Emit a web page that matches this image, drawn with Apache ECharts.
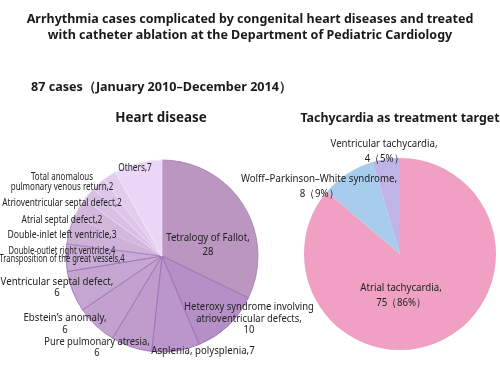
<!DOCTYPE html>
<html><head><meta charset="utf-8">
<script src="https://cdn.jsdelivr.net/npm/echarts@6/dist/echarts.min.js"></script>
<style>html,body{margin:0;padding:0;background:#fff}#c{width:500px;height:369px}</style>
</head><body><div id="c"></div>
<script>
// ---- data ----
const diseaseNames = ['Tetralogy of Fallot','Heteroxy syndrome involving atrioventricular defects','Asplenia, polysplenia','Pure pulmonary atresia','Ebstein\u2019s anomaly','Ventricular septal defect','Transposition of the great vessels','Double-outlet right ventricle','Double-inlet left ventricle','Atrial septal defect','Atrioventricular septal defect','Total anomalous pulmonary venous return','Others'];
const diseaseValues = [28,10,7,6,6,6,4,4,3,2,2,2,7];
const diseaseLabels = ['Tetralogy of Fallot,\n28','Heteroxy syndrome involving\natrioventricular defects,\n10','Asplenia, polysplenia,7','Pure pulmonary atresia,\n6','Ebstein\u2019s anomaly,\n6','Ventricular septal defect,\n6','Transposition of the great vessels,4','Double-outlet right ventricle,4','Double-inlet left ventricle,3','Atrial septal defect,2','Atrioventricular septal defect,2','Total anomalous\npulmonary venous return,2','Others,7'];
const tachyNames = ['Atrial tachycardia','Wolff\u2013Parkinson\u2013White syndrome','Ventricular tachycardia'];
const tachyValues = [75,8,4];
const tachyPct = ['86%','9%','5%'];
const titleLines = ['Arrhythmia cases complicated by congenital heart diseases and treated','with catheter ablation at the Department of Pediatric Cardiology'];
const subtitle = '87 cases\uFF08January 2010\u2013December 2014\uFF09';
const leftTitle = 'Heart disease';
const rightTitle = 'Tachycardia as treatment target';

// ---- styles / layout ----
const diseaseColors = ['#bb96c0','#b58fc6','#bb96ca','#bf9ccc','#c2a1cf','#c5a6d1','#c9acd5','#cdb1d9','#d3b8de','#d8bfe4','#ddc6ea','#e3cdef','#ecd6f8'];
const diseaseBorders = ['#a47cae','#9a6cb2','#9a6cb2','#9a6cb2','#9a6cb2','#9a6cb2','#9a6cb2','#a880c0','#e0cfe8','#eadcf2','#eadcf2','#eadcf2','#f3e8fa'];
const tachyColors = ['#f0a0c2','#a8cdec','#c0b4e6'];
const FONT = '"Noto Sans", sans-serif';
// label anchors: [x, y, fontSize, lineHeight, scaleX]
const diseaseLabelPos = [
  [208,245,10.5,14,0.92],[249,319,10.5,11.5,0.9],[203,351,10.5,12,0.92],[97,348,10.5,11,0.89],
  [65,324,10.5,12,0.92],[57,287.5,10.5,11.5,0.92],[62,259.5,10.5,11,0.72],[62,251,10.5,11,0.72],
  [62,235.5,10.5,11,0.82],[62,220,10.5,11,0.8],[62,203,10.5,11,0.79],[62,182,10.5,10,0.76],[135,168,10.5,11,0.79]
];
const tachyLabelPos = [[401,295.5],[319,186],[384,151.5]];

const graphics = diseaseLabels.map((t,i)=>{
  const L = diseaseLabelPos[i];
  return {type:'text', x:L[0], y:L[1], scaleX:L[4], silent:true, z:100,
    style:{text:t, x:0, y:0, align:'center', verticalAlign:'middle', fill:'#222',
      font: L[2]+'px "Noto Sans", sans-serif', lineHeight:L[3]}};
});
tachyNames.forEach((n,i)=>{
  const L = tachyLabelPos[i];
  graphics.push({type:'text', x:L[0], y:L[1], scaleX:0.88, silent:true, z:100,
    style:{text:n+',\n'+tachyValues[i]+'\uFF08'+tachyPct[i]+'\uFF09', x:0, y:0, align:'center', verticalAlign:'middle', fill:'#222',
      font:'11px "Noto Sans", sans-serif', lineHeight:15}});
});

const chart = echarts.init(document.getElementById('c'), null, {renderer:'canvas'});
chart.setOption({
  animation:false,
  title:[
    {text: titleLines.join('\n'), left:'center', top:6, textStyle:{fontFamily:FONT, fontSize:12.5, fontWeight:'bold', color:'#1a1a1a', lineHeight:16}},
    {text: subtitle, left:26, top:76, textStyle:{fontFamily:FONT, fontSize:12.6, fontWeight:'bold', color:'#1a1a1a'}},
    {text: leftTitle, left:156, top:107, textAlign:'center', textStyle:{fontFamily:FONT, fontSize:13.4, fontWeight:'bold', color:'#1a1a1a'}},
    {text: rightTitle, left:395, top:107, textAlign:'center', textStyle:{fontFamily:FONT, fontSize:12.4, fontWeight:'bold', color:'#1a1a1a'}}
  ],
  graphic: graphics,
  series:[
    {
      type:'pie', center:[162,256], radius:[0,96], startAngle:90, clockwise:true, silent:true,
      data: diseaseNames.map((n,i)=>({name:n, value:diseaseValues[i],
        itemStyle:{color:diseaseColors[i], borderColor:diseaseBorders[i], borderWidth:0.8}})),
      label:{show:false}, labelLine:{show:false}
    },
    {
      type:'pie', center:[400,254], radius:[0,96], startAngle:90, clockwise:true, silent:true,
      data: tachyNames.map((n,i)=>({name:n, value:tachyValues[i], itemStyle:{color:tachyColors[i]}})),
      label:{show:false}, labelLine:{show:false}
    }
  ]
});
</script></body></html>
